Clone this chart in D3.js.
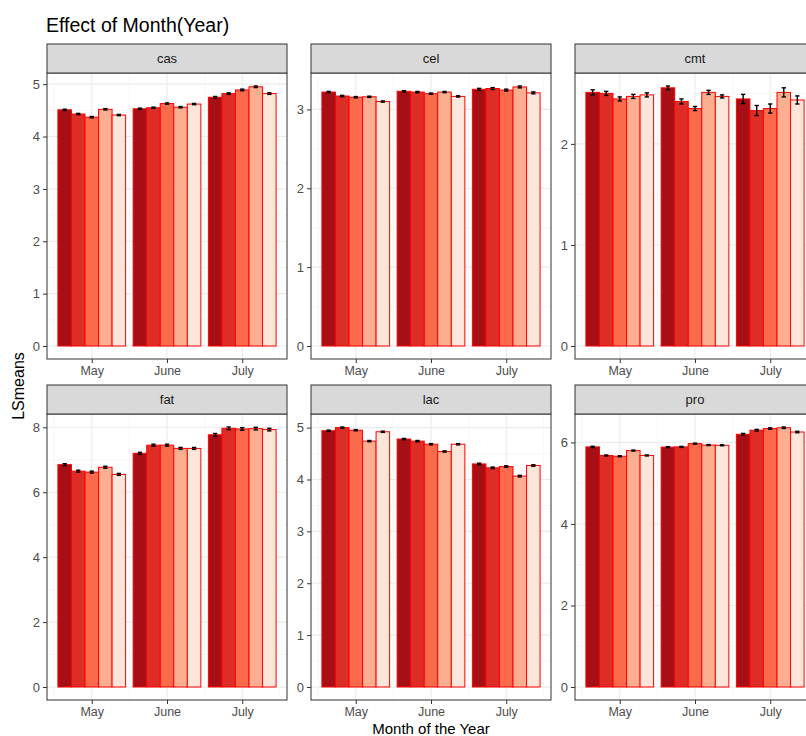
<!DOCTYPE html>
<html>
<head>
<meta charset="utf-8">
<script src="https://cdn.jsdelivr.net/npm/d3@7"></script>
<style>
  body { margin: 0; background: #ffffff; }
  svg { display: block; font-family: "Liberation Sans", Arial, sans-serif; }
</style>
</head>
<body>
<svg id="chart" width="806" height="736"></svg>
<script>
// Months on the x axis and the five years dodged inside each month
const months = ["May", "June", "July"];
const years = ["Y1", "Y2", "Y3", "Y4", "Y5"];
const traits = ["cas", "cel", "cmt", "fat", "lac", "pro"];

// LSmeans: one row per month, one column per year
const casMean = [[4.51, 4.43, 4.37, 4.52, 4.41], [4.53, 4.55, 4.63, 4.56, 4.62], [4.75, 4.82, 4.89, 4.95, 4.82]];
const casSE   = [[0.012, 0.012, 0.012, 0.012, 0.012], [0.012, 0.012, 0.012, 0.012, 0.012], [0.015, 0.015, 0.015, 0.015, 0.015]];
const celMean = [[3.22, 3.17, 3.155, 3.16, 3.10], [3.23, 3.22, 3.20, 3.22, 3.165], [3.255, 3.265, 3.245, 3.285, 3.21]];
const celSE   = [[0.008, 0.008, 0.008, 0.008, 0.008], [0.008, 0.008, 0.008, 0.008, 0.008], [0.012, 0.012, 0.012, 0.012, 0.012]];
const cmtMean = [[2.51, 2.50, 2.445, 2.47, 2.485], [2.555, 2.42, 2.35, 2.51, 2.47], [2.445, 2.33, 2.35, 2.51, 2.435]];
const cmtSE   = [[0.025, 0.02, 0.02, 0.02, 0.02], [0.018, 0.025, 0.02, 0.02, 0.015], [0.045, 0.05, 0.045, 0.045, 0.04]];
const fatMean = [[6.85, 6.65, 6.62, 6.77, 6.55], [7.20, 7.45, 7.45, 7.35, 7.35], [7.77, 7.97, 7.95, 7.96, 7.93]];
const fatSE   = [[0.03, 0.03, 0.03, 0.03, 0.03], [0.03, 0.03, 0.03, 0.03, 0.03], [0.04, 0.04, 0.04, 0.04, 0.04]];
const lacMean = [[4.94, 5.00, 4.95, 4.74, 4.92], [4.78, 4.74, 4.68, 4.54, 4.68], [4.30, 4.225, 4.25, 4.065, 4.27]];
const lacSE   = [[0.012, 0.012, 0.012, 0.012, 0.012], [0.012, 0.012, 0.012, 0.012, 0.012], [0.015, 0.015, 0.015, 0.015, 0.015]];
const proMean = [[5.89, 5.68, 5.66, 5.80, 5.68], [5.885, 5.89, 5.97, 5.935, 5.93], [6.20, 6.30, 6.34, 6.36, 6.255]];
const proSE   = [[0.015, 0.012, 0.012, 0.012, 0.012], [0.012, 0.012, 0.012, 0.012, 0.012], [0.02, 0.02, 0.018, 0.018, 0.018]];

// Tick labels of each facet's y axis
const casTicks = [0, 1, 2, 3, 4, 5];
const celTicks = [0, 1, 2, 3];
const cmtTicks = [0, 1, 2];
const fatTicks = [0, 2, 4, 6, 8];
const lacTicks = [0, 1, 2, 3, 4, 5];
const proTicks = [0, 2, 4, 6];

const meanBy = { cas: casMean, cel: celMean, cmt: cmtMean, fat: fatMean, lac: lacMean, pro: proMean };
const seBy = { cas: casSE, cel: celSE, cmt: cmtSE, fat: fatSE, lac: lacSE, pro: proSE };
const ticksBy = { cas: casTicks, cel: celTicks, cmt: cmtTicks, fat: fatTicks, lac: lacTicks, pro: proTicks };

// Reds palette, darkest year first
const fill = d3.scaleOrdinal().domain(years).range(["#a50f15", "#de2d26", "#fb6a4a", "#fcae91", "#fee5d9"]);

const svg = d3.select("#chart");

// Facet layout
const colLeft = [47, 311, 575];
const rowTop = [44, 385];
const panelW = 240, stripH = 29, plotH = 286;
const dodge = 0.9, barW = dodge / years.length;

// Title
svg.append("text").attr("x", 46).attr("y", 32)
  .attr("font-size", 19.5).attr("fill", "#000")
  .text("Effect of Month(Year)");

traits.forEach((trait, k) => {
  const left = colLeft[k % 3];
  const top = rowTop[Math.floor(k / 3)];
  const plotTop = top + stripH;
  const means = meanBy[trait], ses = seBy[trait], ticks = ticksBy[trait];

  // Flatten into rows of month/year records
  const rows = [];
  months.forEach((m, i) => years.forEach((yr, j) => {
    rows.push({ month: m, mi: i + 1, year: yr, yi: j, mean: means[i][j], se: ses[i][j] });
  }));

  // Continuous x (month index) with 5% expansion
  const xLo = 1 - dodge / 2, xHi = 3 + dodge / 2, xPad = (xHi - xLo) * 0.05;
  const x = d3.scaleLinear().domain([xLo - xPad, xHi + xPad]).range([left, left + panelW]);

  const yMax = d3.max(rows, d => d.mean + d.se);
  const y = d3.scaleLinear().domain([-0.05 * yMax, 1.05 * yMax]).range([plotTop + plotH, plotTop]);

  const g = svg.append("g");

  // Panel background
  g.append("rect").attr("x", left).attr("y", plotTop).attr("width", panelW).attr("height", plotH).attr("fill", "#fff");

  // Minor grid lines
  const step = ticks[1] - ticks[0];
  const yMinor = [];
  for (let v = ticks[0] - step / 2; v <= y.domain()[1]; v += step) if (v >= y.domain()[0]) yMinor.push(v);
  const xMinor = [0.5, 1.5, 2.5, 3.5];
  g.selectAll(".ymin").data(yMinor).join("line")
    .attr("x1", left).attr("x2", left + panelW).attr("y1", d => y(d)).attr("y2", d => y(d))
    .attr("stroke", "#f2f2f2").attr("stroke-width", 0.6);
  g.selectAll(".xmin").data(xMinor).join("line")
    .attr("x1", d => x(d)).attr("x2", d => x(d)).attr("y1", plotTop).attr("y2", plotTop + plotH)
    .attr("stroke", "#f2f2f2").attr("stroke-width", 0.6);
  // Major grid lines
  g.selectAll(".ymaj").data(ticks).join("line")
    .attr("x1", left).attr("x2", left + panelW).attr("y1", d => y(d)).attr("y2", d => y(d))
    .attr("stroke", "#ebebeb").attr("stroke-width", 1.1);
  g.selectAll(".xmaj").data([1, 2, 3]).join("line")
    .attr("x1", d => x(d)).attr("x2", d => x(d)).attr("y1", plotTop).attr("y2", plotTop + plotH)
    .attr("stroke", "#ebebeb").attr("stroke-width", 1.1);

  // Bars
  g.selectAll(".bar").data(rows).join("rect")
    .attr("x", d => x(d.mi - dodge / 2 + d.yi * barW))
    .attr("width", d => x(barW) - x(0))
    .attr("y", d => y(d.mean))
    .attr("height", d => y(0) - y(d.mean))
    .attr("fill", d => fill(d.year))
    .attr("stroke", "#ff0000").attr("stroke-width", 1);

  // Error bars
  const capHalf = (x(barW) - x(0)) * 0.16;
  const eb = g.selectAll(".err").data(rows).join("g").attr("stroke", "#000").attr("stroke-width", 1.4);
  eb.append("line")
    .attr("x1", d => x(d.mi - dodge / 2 + (d.yi + 0.5) * barW)).attr("x2", d => x(d.mi - dodge / 2 + (d.yi + 0.5) * barW))
    .attr("y1", d => y(d.mean - d.se)).attr("y2", d => y(d.mean + d.se));
  [-1, 1].forEach(s => {
    eb.append("line")
      .attr("x1", d => x(d.mi - dodge / 2 + (d.yi + 0.5) * barW) - capHalf)
      .attr("x2", d => x(d.mi - dodge / 2 + (d.yi + 0.5) * barW) + capHalf)
      .attr("y1", d => y(d.mean + s * d.se)).attr("y2", d => y(d.mean + s * d.se));
  });

  // Panel border
  g.append("rect").attr("x", left).attr("y", plotTop).attr("width", panelW).attr("height", plotH)
    .attr("fill", "none").attr("stroke", "#333333").attr("stroke-width", 1);

  // Strip
  g.append("rect").attr("x", left).attr("y", top).attr("width", panelW).attr("height", stripH)
    .attr("fill", "#d9d9d9").attr("stroke", "#333333").attr("stroke-width", 1);
  g.append("text").attr("x", left + panelW / 2).attr("y", top + stripH / 2 + 4.5)
    .attr("text-anchor", "middle").attr("font-size", 13).attr("fill", "#1a1a1a").text(trait);

  // Y axis
  const yAxis = d3.axisLeft(y).tickValues(ticks).tickSize(4).tickPadding(3).tickFormat(d3.format("d"));
  const ya = g.append("g").attr("transform", `translate(${left},0)`).call(yAxis);
  ya.select(".domain").remove();
  ya.selectAll(".tick line").attr("stroke", "#333333");
  ya.selectAll(".tick text").attr("fill", "#4d4d4d").attr("font-size", 13)
    .attr("font-family", "'Liberation Sans', Arial, sans-serif");

  // X axis with month names
  const xAxis = d3.axisBottom(x).tickValues([1, 2, 3]).tickSize(4).tickPadding(3).tickFormat(d => months[d - 1]);
  const xa = g.append("g").attr("transform", `translate(0,${plotTop + plotH})`).call(xAxis);
  xa.select(".domain").remove();
  xa.selectAll(".tick line").attr("stroke", "#333333");
  xa.selectAll(".tick text").attr("fill", "#4d4d4d").attr("font-size", 12.5)
    .attr("font-family", "'Liberation Sans', Arial, sans-serif");
});

// Axis titles
svg.append("text").attr("x", 431).attr("y", 734)
  .attr("text-anchor", "middle").attr("font-size", 15).attr("fill", "#000")
  .text("Month of the Year");
svg.append("text").attr("transform", "translate(24,386) rotate(-90)")
  .attr("text-anchor", "middle").attr("font-size", 16).attr("fill", "#000")
  .text("LSmeans");
</script>
</body>
</html>
